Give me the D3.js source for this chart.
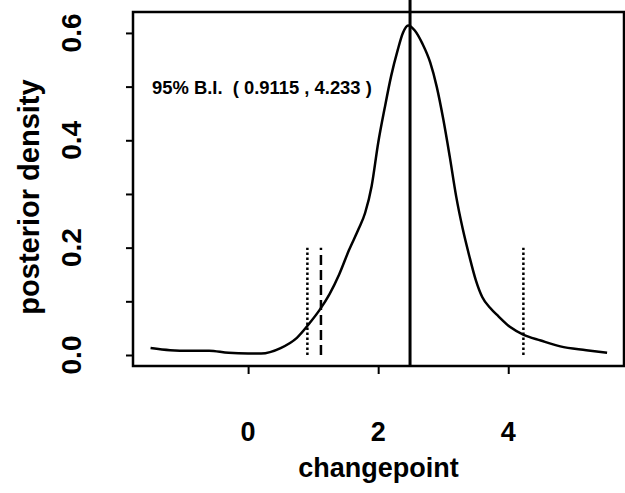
<!DOCTYPE html>
<html lang="en">
<head>
<meta charset="UTF-8">
<title>Posterior density of changepoint</title>
<script src="https://d3js.org/d3.v7.min.js"></script>
<style>
  body { margin: 0; background: #fff; }
  svg { display: block; font-family: "Liberation Sans", Arial, sans-serif; font-weight: bold; }
  .axis path { display: none; }
  .axis line { stroke: #000; stroke-width: 2; }
  .note { white-space: pre; }
</style>
</head>
<body>
<svg width="625" height="493"></svg>
<script>
// posterior density curve
const cpX = [-1.5, -1.2, -0.9, -0.6, -0.3, 0.0, 0.2, 0.5, 0.75, 0.95, 1.1, 1.25, 1.4, 1.55, 1.7,
             1.8, 1.9, 2.0, 2.1, 2.2, 2.3, 2.38, 2.46, 2.56, 2.68, 2.8, 2.9, 3.0, 3.1, 3.2,
             3.3, 3.4, 3.5, 3.6, 3.72, 3.85, 4.03, 4.23, 4.5, 4.8, 5.2, 5.52];
const cpDensity = [0.013, 0.009, 0.008, 0.008, 0.004, 0.003, 0.003, 0.013, 0.032, 0.06, 0.084, 0.113,
                   0.15, 0.195, 0.235, 0.265, 0.315, 0.395, 0.46, 0.52, 0.568, 0.6, 0.614, 0.605,
                   0.58, 0.545, 0.5, 0.44, 0.37, 0.295, 0.235, 0.185, 0.14, 0.108, 0.088, 0.072,
                   0.052, 0.038, 0.027, 0.016, 0.009, 0.004];

const xTicks = [0, 2, 4];
const yTicks = [0, 0.1, 0.2, 0.3, 0.4, 0.5, 0.6];
const yLabelTicks = [0, 0.2, 0.4, 0.6];

const biLower = 0.9115, biUpper = 4.233;
const otherLine = 1.12;   // dashed
const modeLine = 2.49;    // solid
const biText = "95% B.I.  ( " + biLower + " , " + biUpper + " )";

const svg = d3.select("svg");
const pLeft = 133, pRight = 624, pTop = 12, pBottom = 366;

const x = d3.scaleLinear().domain([-1.77, 5.78]).range([pLeft, pRight]);
const y = d3.scaleLinear().domain([-0.0205, 0.639]).range([pBottom, pTop]);

// y ticks
svg.append("g")
  .attr("class", "axis")
  .attr("transform", `translate(${pLeft},0)`)
  .call(d3.axisLeft(y).tickValues(yTicks).tickSize(7).tickFormat(""));

yLabelTicks.forEach(v => {
  svg.append("text")
    .attr("transform", `translate(81,${y(v)}) rotate(-90)`)
    .attr("text-anchor", "middle")
    .attr("font-size", 28)
    .text(d3.format(".1f")(v));
});

// x ticks
svg.append("g")
  .attr("class", "axis")
  .attr("transform", `translate(0,${pBottom})`)
  .call(d3.axisBottom(x).tickValues(xTicks).tickSize(8).tickFormat(""));

xTicks.forEach(v => {
  svg.append("text")
    .attr("x", x(v)).attr("y", 441)
    .attr("text-anchor", "middle")
    .attr("font-size", 27)
    .text(v);
});

// axis titles
svg.append("text")
  .attr("x", (pLeft + pRight) / 2).attr("y", 477)
  .attr("text-anchor", "middle")
  .attr("font-size", 27)
  .text("changepoint");

svg.append("text")
  .attr("transform", `translate(39,${(pTop + pBottom) / 2 + 8}) rotate(-90)`)
  .attr("text-anchor", "middle")
  .attr("font-size", 29)
  .text("posterior density");

// density curve
const line = d3.line()
  .x((d, i) => x(cpX[i]))
  .y(d => y(d))
  .curve(d3.curveMonotoneX);

svg.append("path")
  .attr("d", line(cpDensity))
  .attr("fill", "none")
  .attr("stroke", "#000")
  .attr("stroke-width", 2.5)
  .attr("stroke-linejoin", "round");

// interval lines
[biLower, biUpper].forEach(v => {
  svg.append("line")
    .attr("x1", x(v)).attr("x2", x(v))
    .attr("y1", y(0)).attr("y2", y(0.2))
    .attr("stroke", "#000")
    .attr("stroke-width", 2.5)
    .attr("stroke-dasharray", "2.5,2.5");
});

svg.append("line")
  .attr("x1", x(otherLine)).attr("x2", x(otherLine))
  .attr("y1", y(0)).attr("y2", y(0.2))
  .attr("stroke", "#000")
  .attr("stroke-width", 2.5)
  .attr("stroke-dasharray", "10,5");

svg.append("line")
  .attr("x1", x(modeLine)).attr("x2", x(modeLine))
  .attr("y1", pBottom).attr("y2", 0)
  .attr("stroke", "#000")
  .attr("stroke-width", 3);

// box
svg.append("rect")
  .attr("x", pLeft).attr("y", pTop)
  .attr("width", pRight - pLeft).attr("height", pBottom - pTop)
  .attr("fill", "none")
  .attr("stroke", "#000")
  .attr("stroke-width", 2.5);

svg.append("text")
  .attr("class", "note")
  .attr("x", 152).attr("y", y(0.5) + 7)
  .attr("font-size", 18.4)
  .text(biText);
</script>
</body>
</html>
